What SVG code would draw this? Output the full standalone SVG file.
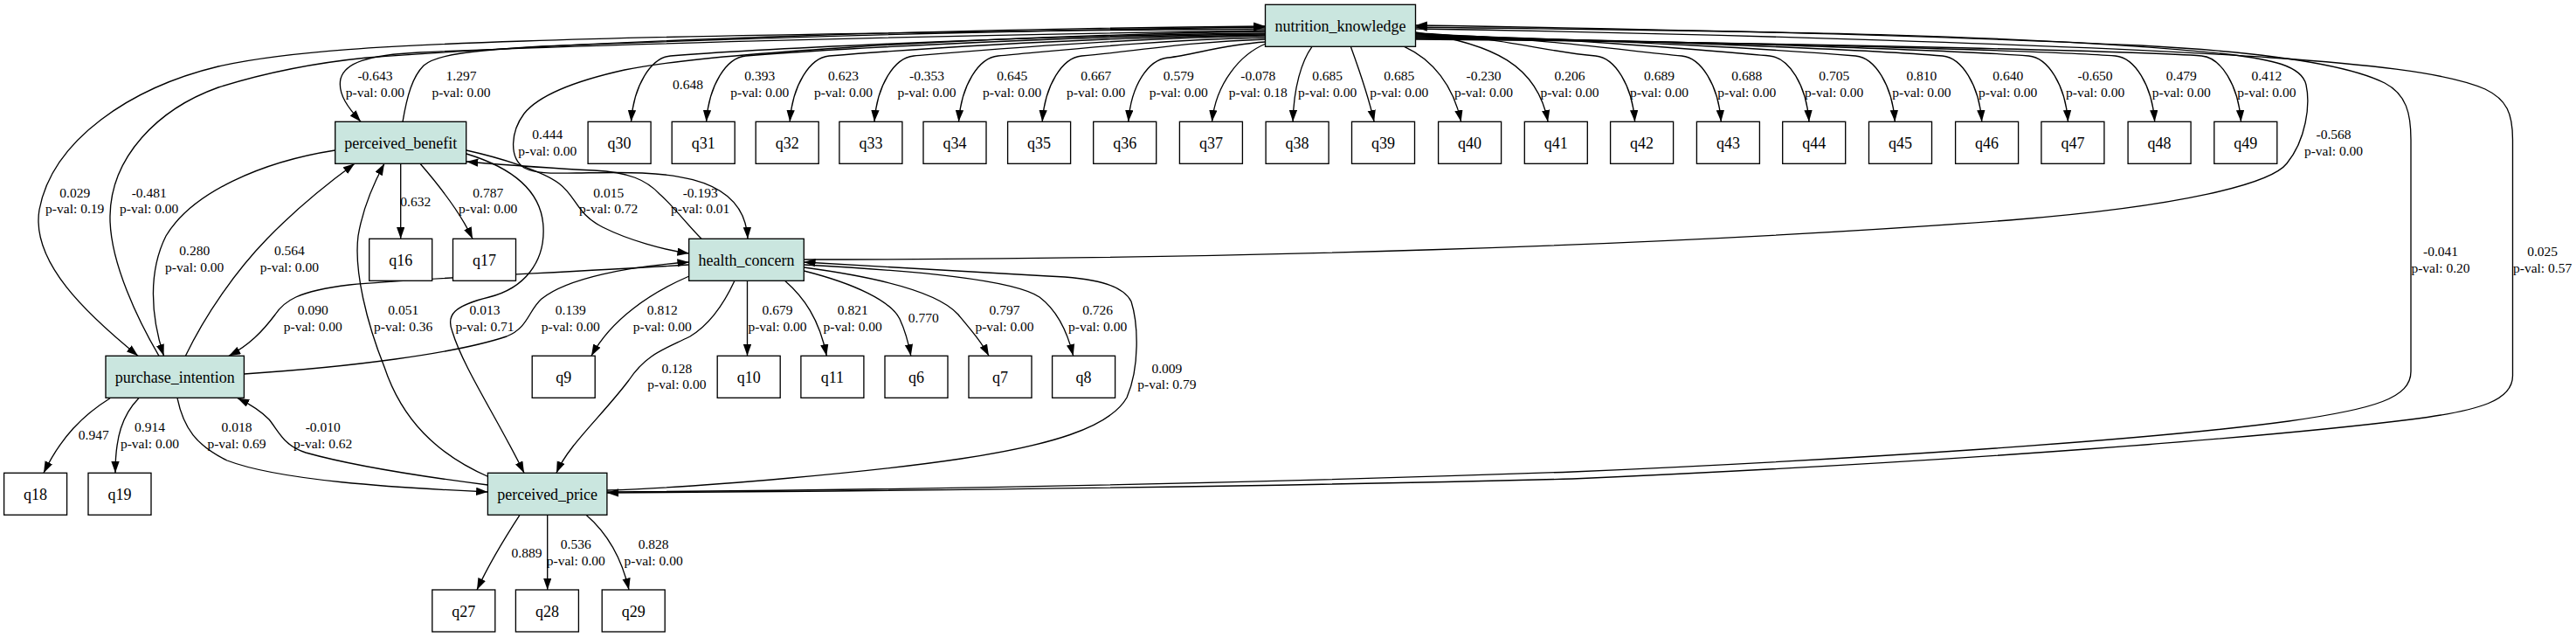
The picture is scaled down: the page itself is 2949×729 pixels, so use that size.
<svg xmlns="http://www.w3.org/2000/svg" width="2949" height="729" viewBox="0 0 2949 729">
<style>
rect.b{stroke:#000;stroke-width:1.33}
.lat rect{fill:#cae6df}
.obs rect{fill:#fff}
text{font-family:"Liberation Serif","Times New Roman",serif;text-anchor:middle;fill:#000}
.nt{font-size:18px}
#edges path{fill:none;stroke:#000;stroke-width:1.33;marker-end:url(#ah)}
#edge-labels text{font-size:15.5px}
</style>
<defs>
<marker id="ah" markerUnits="userSpaceOnUse" markerWidth="14" markerHeight="10" viewBox="0 0 14 10" refX="13.3" refY="4.67" orient="auto"><path d="M0,0 L13.3,4.67 L0,9.33 z" fill="#000"/></marker>
</defs>
<rect width="2949" height="729" fill="#fff"/>
<g id="edges">
<!-- NK indicators -->
<path d="M1448.5,38 C1142,41 827.5,59 767.5,64 C745.5,66 725.5,97.3 722.5,139.3"/>
<path d="M1448.5,39 C1180.8,42 913.6,59 853.6,64 C831.6,66 811.6,97.3 808.6,139.3"/>
<path d="M1448.5,40 C1223.8,43 1009.2,59 949.2,64 C927.2,66 907.2,97.3 904.2,139.3"/>
<path d="M1448.5,41 C1267.4,44 1106,59 1046,64 C1024,66 1004,97.3 1001,139.3"/>
<path d="M1448.5,43 C1310.8,46 1202.5,59 1142.5,64 C1120.5,66 1100.5,97.3 1097.5,139.3"/>
<path d="M1448.5,45 C1353.9,48 1298.2,59 1238.2,64 C1216.2,66 1196.2,97.3 1193.2,139.3"/>
<path d="M1448.5,48 C1398.2,51 1366.8,63 1336.8,66 C1314.8,68.2 1294.8,97.3 1291.8,139.3"/>
<path d="M1449,50 C1420,62 1392,95 1387.5,139.3"/>
<path d="M1502,53.3 C1490,70 1481,100 1480.1,139.3"/>
<path d="M1546.3,53.3 C1556,80 1567,112 1573.1,139.3"/>
<path d="M1607.6,53.3 C1640,68 1664,98 1672.6,139.3"/>
<path d="M1620.5,37 C1710,50 1760,75 1772.1,139.3"/>
<path d="M1620.5,38 C1713.2,41 1766.6,59 1826.6,64 C1848.6,66 1868.6,97.3 1871.6,139.3"/>
<path d="M1620.5,39 C1757.7,42 1865.3,59 1925.3,64 C1947.3,66 1967.3,97.3 1970.3,139.3"/>
<path d="M1620.5,40 C1803,43 1966,59 2026,64 C2048,66 2068,97.3 2071,139.3"/>
<path d="M1620.5,41 C1847.2,44 2064.3,59 2124.3,64 C2146.3,66 2166.3,97.3 2169.3,139.3"/>
<path d="M1620.5,42 C1892,45 2163.8,59 2223.8,64 C2245.8,66 2265.8,97.3 2268.8,139.3"/>
<path d="M1620.5,43 C1936.4,46 2262.5,59 2322.5,64 C2344.5,66 2364.5,97.3 2367.5,139.3"/>
<path d="M1620.5,44 C1981,47 2361.7,59 2421.7,64 C2443.7,66 2463.7,97.3 2466.7,139.3"/>
<path d="M1620.5,45 C2025.5,48 2460.5,59 2520.5,64 C2542.5,66 2562.5,97.3 2565.5,139.3"/>
<!-- PB indicators -->
<path d="M458.7,187.3 L458.7,273.3"/>
<path d="M481,187.3 C505,215 528,245 541,273.3"/>
<!-- HC indicators -->
<path d="M789,316 C745,335 700,365 677,407.3"/>
<path d="M855.5,321.3 L855.5,407.3"/>
<path d="M898.5,321.3 C920,340 938,365 946.3,407.3"/>
<path d="M920.3,310 C980,325 1020,345 1030,365 C1036,378 1040,392 1042.8,407.3"/>
<path d="M920.3,306 C1010,318 1075,335 1097,360 C1112,378 1124,392 1132,407.3"/>
<path d="M920.3,303 C1050,310 1160,320 1190,340 C1210,355 1222,380 1228.7,407.3"/>
<!-- PI indicators -->
<path d="M126,455.7 C95,475 70,500 50,541.3"/>
<path d="M158.8,455.7 C140,475 132,500 132,541.3"/>
<!-- PP indicators -->
<path d="M595,589.3 C575,620 560,645 546,675"/>
<path d="M626.7,589.3 L626.7,675"/>
<path d="M671,589.3 C695,610 712,640 720,675"/>
<!-- structural -->
<path d="M1448.5,33 C1100,36 800,40 600,47 C450,52 330,58 250,76 C150,100 60,160 45,240 C35,300 100,360 158,407.3"/>
<path d="M182,407.3 C160,370 125,300 126,247 C127,180 180,125 250,100 C320,78 380,70 420,66 C700,45 1100,33 1448.5,30"/>
<path d="M1448.5,35 C1100,40 700,50 480,60 C420,63 395,72 390,90 C386,108 400,125 413,139.3"/>
<path d="M461,139.3 C466,110 472,88 485,75 C500,62 540,58 620,53 C900,42 1200,34 1448.5,31"/>
<path d="M1448.5,36 C1100,42 800,62 715,80 C670,90 620,105 600,130 C585,150 582,180 600,192 C615,200 640,198 660,198 C740,197 852,190 856,273.3"/>
<path d="M920.3,297 C1400,297 1900,282 2300,252 C2500,236 2600,210 2618,187 C2640,160 2645,120 2640,97 C2635,75 2600,68 2550,62 C2300,36 1900,35 1620.5,31"/>
<path d="M694.9,563 C1000,561 1400,554 1800,540 C2100,527 2450,505 2620,482 C2720,468 2760,455 2760,425 L2760,160 C2760,130 2755,108 2730,95 C2690,75 2600,60 2450,52 C2200,40 1900,33 1620.5,29"/>
<path d="M1620.5,33 C1950,38 2400,52 2600,66 C2700,73 2800,82 2845,102 C2870,114 2876.5,130 2876.5,160 L2876.5,430 C2876.5,458 2840,470 2760,480 C2600,500 2250,528 1800,548 C1400,558 1000,562 694.9,564"/>
<path d="M212.4,407.3 C235,360 270,310 306,273 C340,238 375,210 406,187.3"/>
<path d="M383.5,172 C300,185 220,220 190,270 C170,310 172,360 187.5,407.3"/>
<path d="M803,273.3 C785,255 770,235 755,222 C740,206 720,197 680,195 C620,192 570,188 534,185"/>
<path d="M533.9,172 C570,180 620,195 640,210 C660,225 660,245 690,260 C720,275 760,286 788.7,290"/>
<path d="M533.9,176 C580,190 620,215 622,260 C624,300 600,330 560,340 C520,350 510,360 518,380 C530,420 570,480 600,541.3"/>
<path d="M560,546 C500,520 460,480 440,420 C420,370 405,310 410,270 C415,240 425,215 440,187.3"/>
<path d="M788.7,303 C650,312 480,318 400,326 C340,333 325,345 315,360 C300,380 285,395 262,407.3"/>
<path d="M279.4,428 C400,420 520,405 580,385 C605,375 605,355 620,342 C650,318 720,305 788.7,300"/>
<path d="M841,321.3 C830,345 815,370 790,385 C760,400 740,405 720,435 C690,475 650,510 637,541.3"/>
<path d="M694.9,561 C800,558 1000,540 1100,525 C1200,510 1270,490 1290,455 C1305,420 1303,370 1295,345 C1285,325 1250,318 1200,316 C1100,310 1000,304 920.3,300"/>
<path d="M203,455.7 C210,490 225,510 260,527 C320,550 450,558 558.4,563"/>
<path d="M558.4,555 C480,545 400,532 350,518 C325,510 320,495 308,480 C298,470 285,462 272,455.7"/>
</g>
<g id="edge-labels">
<text x="787.5" y="101.7">0.648</text>
<text x="869.8" y="92.3">0.393</text><text x="869.8" y="111">p-val: 0.00</text>
<text x="965.5" y="92.3">0.623</text><text x="965.5" y="111">p-val: 0.00</text>
<text x="1061" y="92.3">-0.353</text><text x="1061" y="111">p-val: 0.00</text>
<text x="1158.7" y="92.3">0.645</text><text x="1158.7" y="111">p-val: 0.00</text>
<text x="1254.7" y="92.3">0.667</text><text x="1254.7" y="111">p-val: 0.00</text>
<text x="1349.3" y="92.3">0.579</text><text x="1349.3" y="111">p-val: 0.00</text>
<text x="1440.3" y="92.3">-0.078</text><text x="1440.3" y="111">p-val: 0.18</text>
<text x="1519.6" y="92.3">0.685</text><text x="1519.6" y="111">p-val: 0.00</text>
<text x="1601.8" y="92.3">0.685</text><text x="1601.8" y="111">p-val: 0.00</text>
<text x="1698.5" y="92.3">-0.230</text><text x="1698.5" y="111">p-val: 0.00</text>
<text x="1797" y="92.3">0.206</text><text x="1797" y="111">p-val: 0.00</text>
<text x="1899.5" y="92.3">0.689</text><text x="1899.5" y="111">p-val: 0.00</text>
<text x="1999.8" y="92.3">0.688</text><text x="1999.8" y="111">p-val: 0.00</text>
<text x="2099.7" y="92.3">0.705</text><text x="2099.7" y="111">p-val: 0.00</text>
<text x="2199.9" y="92.3">0.810</text><text x="2199.9" y="111">p-val: 0.00</text>
<text x="2298.7" y="92.3">0.640</text><text x="2298.7" y="111">p-val: 0.00</text>
<text x="2398.6" y="92.3">-0.650</text><text x="2398.6" y="111">p-val: 0.00</text>
<text x="2497.3" y="92.3">0.479</text><text x="2497.3" y="111">p-val: 0.00</text>
<text x="2594.9" y="92.3">0.412</text><text x="2594.9" y="111">p-val: 0.00</text>
<text x="429.4" y="92.3">-0.643</text><text x="429.4" y="111">p-val: 0.00</text>
<text x="528" y="92.3">1.297</text><text x="528" y="111">p-val: 0.00</text>
<text x="85.7" y="225.7">0.029</text><text x="85.7" y="244.4">p-val: 0.19</text>
<text x="170.7" y="225.7">-0.481</text><text x="170.7" y="244.4">p-val: 0.00</text>
<text x="475.7" y="235.7">0.632</text>
<text x="558.7" y="225.7">0.787</text><text x="558.7" y="244.4">p-val: 0.00</text>
<text x="222.7" y="292.3">0.280</text><text x="222.7" y="311">p-val: 0.00</text>
<text x="331.4" y="292.3">0.564</text><text x="331.4" y="311">p-val: 0.00</text>
<text x="626.8" y="159.3">0.444</text><text x="626.8" y="178">p-val: 0.00</text>
<text x="696.7" y="225.7">0.015</text><text x="696.7" y="244.4">p-val: 0.72</text>
<text x="801.7" y="225.7">-0.193</text><text x="801.7" y="244.4">p-val: 0.01</text>
<text x="358.3" y="360">0.090</text><text x="358.3" y="378.7">p-val: 0.00</text>
<text x="461.7" y="360">0.051</text><text x="461.7" y="378.7">p-val: 0.36</text>
<text x="555" y="360">0.013</text><text x="555" y="378.7">p-val: 0.71</text>
<text x="653.3" y="360">0.139</text><text x="653.3" y="378.7">p-val: 0.00</text>
<text x="758.3" y="360">0.812</text><text x="758.3" y="378.7">p-val: 0.00</text>
<text x="890" y="360">0.679</text><text x="890" y="378.7">p-val: 0.00</text>
<text x="976.2" y="360">0.821</text><text x="976.2" y="378.7">p-val: 0.00</text>
<text x="1057.3" y="369">0.770</text>
<text x="1150" y="360">0.797</text><text x="1150" y="378.7">p-val: 0.00</text>
<text x="1256.6" y="360">0.726</text><text x="1256.6" y="378.7">p-val: 0.00</text>
<text x="774.9" y="426.7">0.128</text><text x="774.9" y="445.4">p-val: 0.00</text>
<text x="1335.9" y="426.7">0.009</text><text x="1335.9" y="445.4">p-val: 0.79</text>
<text x="107.2" y="503.3">0.947</text>
<text x="171.5" y="494.3">0.914</text><text x="171.5" y="513">p-val: 0.00</text>
<text x="271" y="494.3">0.018</text><text x="271" y="513">p-val: 0.69</text>
<text x="369.7" y="494.3">-0.010</text><text x="369.7" y="513">p-val: 0.62</text>
<text x="603" y="637.7">0.889</text>
<text x="659.3" y="628.3">0.536</text><text x="659.3" y="647">p-val: 0.00</text>
<text x="748.1" y="628.3">0.828</text><text x="748.1" y="647">p-val: 0.00</text>
<text x="2671.5" y="159">-0.568</text><text x="2671.5" y="177.7">p-val: 0.00</text>
<text x="2794" y="293.3">-0.041</text><text x="2794" y="312">p-val: 0.20</text>
<text x="2910.6" y="293.3">0.025</text><text x="2910.6" y="312">p-val: 0.57</text>
</g>
<g id="nutrition_knowledge" class="lat"><rect class="b" x="1448.5" y="5.3" width="172" height="48"/><text class="nt" x="1534.5" y="35.8">nutrition_knowledge</text></g>
<g id="perceived_benefit" class="lat"><rect class="b" x="383.7" y="139.3" width="150" height="48"/><text class="nt" x="458.7" y="169.8">perceived_benefit</text></g>
<g id="health_concern" class="lat"><rect class="b" x="788.7" y="273.3" width="131.6" height="48"/><text class="nt" x="854.5" y="303.8">health_concern</text></g>
<g id="purchase_intention" class="lat"><rect class="b" x="121" y="407.3" width="158.4" height="48"/><text class="nt" x="200.2" y="437.8">purchase_intention</text></g>
<g id="perceived_price" class="lat"><rect class="b" x="558.4" y="541.3" width="136.5" height="48"/><text class="nt" x="626.65" y="571.8">perceived_price</text></g>
<g id="q30" class="obs"><rect class="b" x="673.1" y="139.3" width="72" height="48"/><text class="nt" x="709.1" y="169.8">q30</text></g>
<g id="q31" class="obs"><rect class="b" x="769.2" y="139.3" width="72" height="48"/><text class="nt" x="805.2" y="169.8">q31</text></g>
<g id="q32" class="obs"><rect class="b" x="865.2" y="139.3" width="72" height="48"/><text class="nt" x="901.2" y="169.8">q32</text></g>
<g id="q33" class="obs"><rect class="b" x="960.9" y="139.3" width="72" height="48"/><text class="nt" x="996.9" y="169.8">q33</text></g>
<g id="q34" class="obs"><rect class="b" x="1057" y="139.3" width="72" height="48"/><text class="nt" x="1093" y="169.8">q34</text></g>
<g id="q35" class="obs"><rect class="b" x="1153.6" y="139.3" width="72" height="48"/><text class="nt" x="1189.6" y="169.8">q35</text></g>
<g id="q36" class="obs"><rect class="b" x="1251.7" y="139.3" width="72" height="48"/><text class="nt" x="1287.7" y="169.8">q36</text></g>
<g id="q37" class="obs"><rect class="b" x="1350.4" y="139.3" width="72" height="48"/><text class="nt" x="1386.4" y="169.8">q37</text></g>
<g id="q38" class="obs"><rect class="b" x="1449.1" y="139.3" width="72" height="48"/><text class="nt" x="1485.1" y="169.8">q38</text></g>
<g id="q39" class="obs"><rect class="b" x="1547.5" y="139.3" width="72" height="48"/><text class="nt" x="1583.5" y="169.8">q39</text></g>
<g id="q40" class="obs"><rect class="b" x="1646.6" y="139.3" width="72" height="48"/><text class="nt" x="1682.6" y="169.8">q40</text></g>
<g id="q41" class="obs"><rect class="b" x="1745.3" y="139.3" width="72" height="48"/><text class="nt" x="1781.3" y="169.8">q41</text></g>
<g id="q42" class="obs"><rect class="b" x="1843.6" y="139.3" width="72" height="48"/><text class="nt" x="1879.6" y="169.8">q42</text></g>
<g id="q43" class="obs"><rect class="b" x="1942.4" y="139.3" width="72" height="48"/><text class="nt" x="1978.4" y="169.8">q43</text></g>
<g id="q44" class="obs"><rect class="b" x="2040.7" y="139.3" width="72" height="48"/><text class="nt" x="2076.7" y="169.8">q44</text></g>
<g id="q45" class="obs"><rect class="b" x="2139.5" y="139.3" width="72" height="48"/><text class="nt" x="2175.5" y="169.8">q45</text></g>
<g id="q46" class="obs"><rect class="b" x="2238.6" y="139.3" width="72" height="48"/><text class="nt" x="2274.6" y="169.8">q46</text></g>
<g id="q47" class="obs"><rect class="b" x="2336.9" y="139.3" width="72" height="48"/><text class="nt" x="2372.9" y="169.8">q47</text></g>
<g id="q48" class="obs"><rect class="b" x="2436.1" y="139.3" width="72" height="48"/><text class="nt" x="2472.1" y="169.8">q48</text></g>
<g id="q49" class="obs"><rect class="b" x="2534.8" y="139.3" width="72" height="48"/><text class="nt" x="2570.8" y="169.8">q49</text></g>
<g id="q16" class="obs"><rect class="b" x="422.7" y="273.3" width="72" height="48"/><text class="nt" x="458.7" y="303.8">q16</text></g>
<g id="q17" class="obs"><rect class="b" x="518.5" y="273.3" width="72" height="48"/><text class="nt" x="554.5" y="303.8">q17</text></g>
<g id="q9" class="obs"><rect class="b" x="609.2" y="407.3" width="72" height="48"/><text class="nt" x="645.2" y="437.8">q9</text></g>
<g id="q10" class="obs"><rect class="b" x="821.2" y="407.3" width="72" height="48"/><text class="nt" x="857.2" y="437.8">q10</text></g>
<g id="q11" class="obs"><rect class="b" x="916.9" y="407.3" width="72" height="48"/><text class="nt" x="952.9" y="437.8">q11</text></g>
<g id="q6" class="obs"><rect class="b" x="1013" y="407.3" width="72" height="48"/><text class="nt" x="1049" y="437.8">q6</text></g>
<g id="q7" class="obs"><rect class="b" x="1109" y="407.3" width="72" height="48"/><text class="nt" x="1145" y="437.8">q7</text></g>
<g id="q8" class="obs"><rect class="b" x="1204.6" y="407.3" width="72" height="48"/><text class="nt" x="1240.6" y="437.8">q8</text></g>
<g id="q18" class="obs"><rect class="b" x="4.6" y="541.3" width="72" height="48"/><text class="nt" x="40.6" y="571.8">q18</text></g>
<g id="q19" class="obs"><rect class="b" x="101" y="541.3" width="72" height="48"/><text class="nt" x="137" y="571.8">q19</text></g>
<g id="q27" class="obs"><rect class="b" x="494.8" y="675" width="72" height="48"/><text class="nt" x="530.8" y="705.5">q27</text></g>
<g id="q28" class="obs"><rect class="b" x="590.4" y="675" width="72" height="48"/><text class="nt" x="626.4" y="705.5">q28</text></g>
<g id="q29" class="obs"><rect class="b" x="689.2" y="675" width="72" height="48"/><text class="nt" x="725.2" y="705.5">q29</text></g>
</svg>
